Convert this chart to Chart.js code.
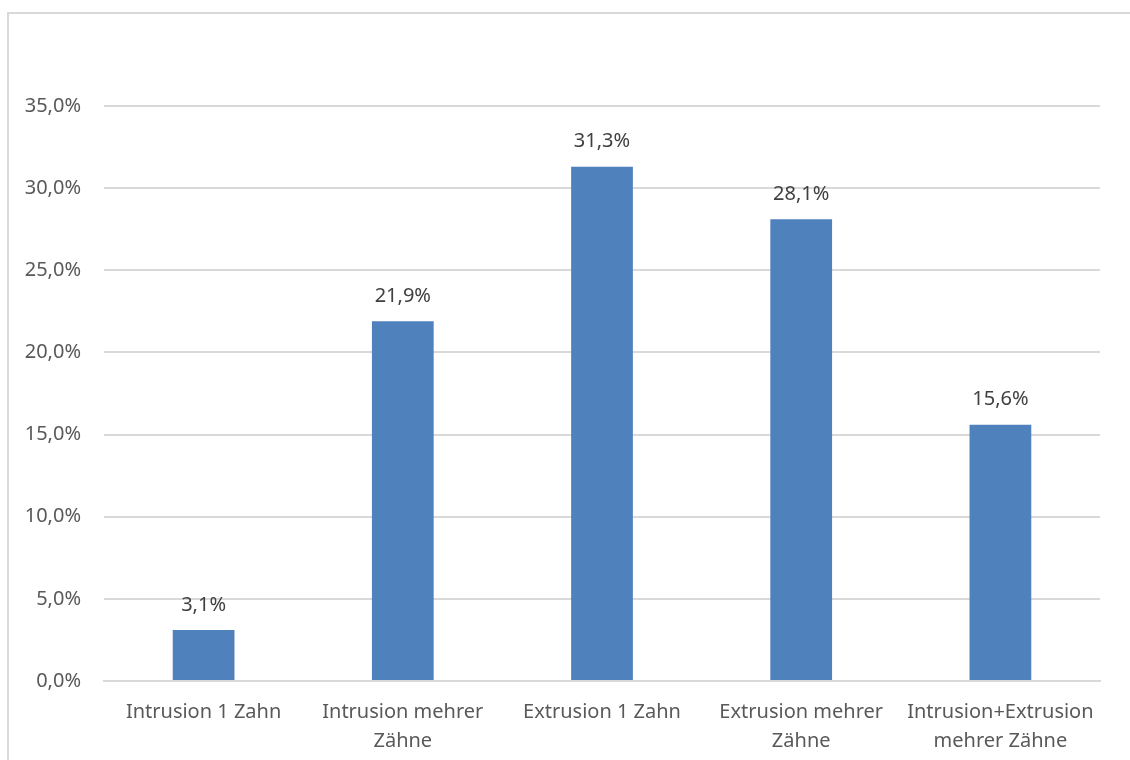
<!DOCTYPE html>
<html>
<head>
<meta charset="utf-8">
<script src="https://cdn.jsdelivr.net/npm/chart.js@4"></script>
<style>
  body { margin: 0; background: #fff; }
  #wrap { position: relative; width: 1130px; height: 760px; overflow: hidden; }
  #frame { position: absolute; left: 7px; top: 12px; width: 1130px; height: 800px; border: 2px solid #d9d9d9; box-sizing: border-box; }
  canvas { position: absolute; left: 0; top: 0; }
</style>
</head>
<body>
<div id="wrap">
  <div id="frame"></div>
  <canvas id="chart" width="1130" height="760"></canvas>
</div>
<script>
const categories = [
  'Intrusion 1 Zahn',
  ['Intrusion mehrer', 'Zähne'],
  'Extrusion 1 Zahn',
  ['Extrusion mehrer', 'Zähne'],
  ['Intrusion+Extrusion', 'mehrer Zähne']
];
const shares = [3.1, 21.9, 31.3, 28.1, 15.6];
const yTicks = [0, 5, 10, 15, 20, 25, 30, 35];

const fmt = v => v.toFixed(1).replace('.', ',') + '%';
const FONT = '"Noto Sans", sans-serif';

// labels above each bar
const barLabels = {
  id: 'barLabels',
  afterDatasetsDraw(chart) {
    const ctx = chart.ctx;
    const meta = chart.getDatasetMeta(0);
    ctx.save();
    ctx.font = '20px ' + FONT;
    ctx.fillStyle = '#404040';
    ctx.textAlign = 'center';
    ctx.textBaseline = 'middle';
    meta.data.forEach((bar, i) => {
      ctx.fillText(fmt(shares[i]), bar.x, bar.y - 25);
    });
    ctx.restore();
  }
};

new Chart(document.getElementById('chart').getContext('2d'), {
  type: 'bar',
  data: {
    labels: categories,
    datasets: [{
      data: shares,
      backgroundColor: '#4f81bd',
      barPercentage: 0.31,
      categoryPercentage: 1
    }]
  },
  options: {
    responsive: false,
    animation: false,
    layout: { padding: { left: 0, top: 106, right: 30, bottom: 0 } },
    plugins: { legend: { display: false }, tooltip: { enabled: false } },
    scales: {
      x: {
        grid: { display: false, drawTicks: false },
        border: { color: '#d9d9d9', width: 2 },
        ticks: { color: '#595959', font: { family: FONT, size: 20, lineHeight: 1.45 }, padding: 17, maxRotation: 0, autoSkip: false },
        afterFit: s => { s.height = 79; }
      },
      y: {
        min: 0,
        max: 35,
        afterBuildTicks: s => { s.ticks = yTicks.map(v => ({ value: v })); },
        grid: { color: '#d9d9d9', lineWidth: 2, drawTicks: false },
        border: { display: false },
        ticks: { color: '#595959', font: { family: FONT, size: 20 }, padding: 23, callback: v => fmt(v) },
        afterFit: s => { s.width = 104; }
      }
    }
  },
  plugins: [barLabels]
});
</script>
</body>
</html>
